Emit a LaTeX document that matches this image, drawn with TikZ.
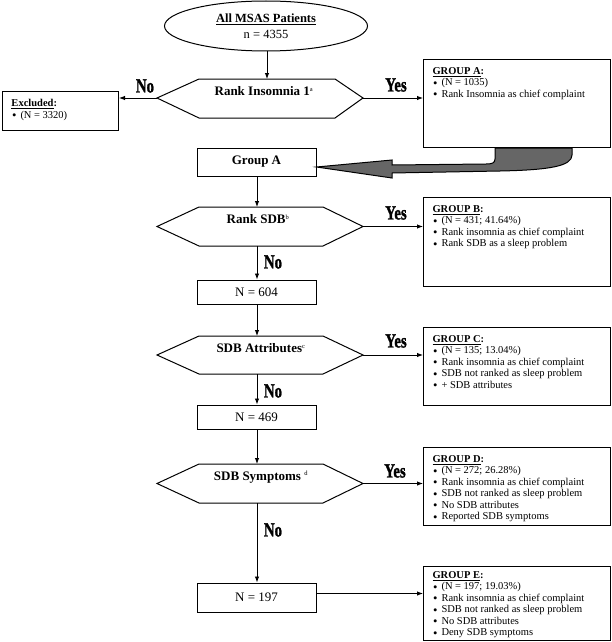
\documentclass[tikz,border=0pt]{standalone}
\usepackage{fontspec}
\setmainfont{Liberation Serif}
\newfontfamily\ynfont[BoldFeatures={FakeBold=1.5}]{Liberation Serif}
\usepackage{graphicx}
\usetikzlibrary{arrows.meta,shapes.geometric,calc}
\definecolor{arrgray}{RGB}{102,102,102}
\newcommand\gbody[3]{\parbox[t][#1pt][t]{#2pt}{\raggedright\leftskip=9pt\relax
  \fontsize{10.5}{11.5}\selectfont\vspace*{8pt}#3\par}}
\newcommand\gtitle[1]{\textbf{\underline{#1}:}}
\newcommand\bl[1]{\par\hspace*{0.5pt}\makebox[8.5pt][l]{\smash{\raisebox{-1.3pt}{\scalebox{1.2}{\textbullet}}}}#1}
\newcommand\supx[1]{\textsuperscript{\fontsize{6.5}{7}\selectfont\mdseries #1}}
\begin{document}
\begin{tikzpicture}[x=1pt,y=-1pt,
  arr/.style={line width=0.9pt,-{Latex[length=6pt,width=4.5pt]}},
  lbox/.style={draw,line width=1pt,minimum width=119pt,inner sep=0pt,font=\fontsize{13}{15}\selectfont},
  grp/.style={draw,line width=1pt,anchor=north west,inner sep=0pt},
  hexline/.style={draw,line width=1pt},
  hextext/.style={font=\fontsize{13}{15}\selectfont\bfseries,inner sep=0pt},
  yn/.style={font=\fontsize{20}{20}\ynfont\bfseries,inner sep=0pt}]
\useasboundingbox (0,0) rectangle (611,642);

% start ellipse
\node[draw,ellipse,line width=1pt,minimum width=203pt,minimum height=50pt,inner sep=0pt,
  align=center,font=\fontsize{12.5}{16}\selectfont] (ell) at (266,26)
  {\textbf{\underline{All MSAS Patients}}\\ n = 4355};

% hexagon 1
\coordinate (h1l) at (157,98); \coordinate (h1r) at (363,98);
\coordinate (h1t) at (267,79); \coordinate (h1b) at (257,118);
\draw[hexline] (h1l) -- (199,79) -- (335,79) -- (h1r) -- (335,118) -- (199,118) -- cycle;
\node[hextext] (h1) at (264,91) {Rank Insomnia 1\supx{a}};

% hexagon 2
\coordinate (h2l) at (157,226.5); \coordinate (h2r) at (363,226.5);
\coordinate (h2t) at (257,207); \coordinate (h2b) at (257,246);
\draw[hexline] (h2l) -- (199,207) -- (323,207) -- (h2r) -- (323,246) -- (199,246) -- cycle;
\node[hextext] (h2) at (258,219) {Rank SDB\supx{b}};

% hexagon 3
\coordinate (h3l) at (157,355); \coordinate (h3r) at (363,355);
\coordinate (h3t) at (257,336); \coordinate (h3b) at (257,374);
\draw[hexline] (h3l) -- (199,336) -- (323,336) -- (h3r) -- (323,374) -- (199,374) -- cycle;
\node[hextext] (h3) at (261,348) {SDB Attributes\supx{c}};

% hexagon 4
\coordinate (h4l) at (157,483.5); \coordinate (h4r) at (363,483.5);
\coordinate (h4t) at (257,464); \coordinate (h4b) at (257,503);
\draw[hexline] (h4l) -- (199,464) -- (323,464) -- (h4r) -- (323,503) -- (199,503) -- cycle;
\node[hextext] (h4) at (261,477) {SDB Symptoms \supx{d}};

% left boxes
\node[lbox,minimum height=28pt,font=\fontsize{13}{15}\selectfont\bfseries] (ga) at (256.5,162) {Group A};
\node[lbox,minimum height=24pt] (n604) at (256.5,292) {N = 604};
\node[lbox,minimum height=24pt] (n469) at (256.5,417) {N = 469};
\node[lbox,minimum height=29pt] (n197) at (256.5,597.5) {N = 197};

% excluded
\node[grp] (exc) at (2,91) {\gbody{39}{116}{\gtitle{Excluded}\bl{(N = 3320)}}};

% group boxes
\node[grp] (grpA) at (423,59) {\gbody{88}{187}{\gtitle{GROUP A}
  \bl{(N = 1035)}\bl{Rank Insomnia as chief complaint}}};
\node[grp] (grpB) at (423,197) {\gbody{89}{187}{\gtitle{GROUP B}
  \bl{(N = 431; 41.64\%)}\bl{Rank insomnia as chief complaint}\bl{Rank SDB as a sleep problem}}};
\node[grp] (grpC) at (423,327) {\gbody{78}{187}{\gtitle{GROUP C}
  \bl{(N = 135; 13.04\%)}\bl{Rank insomnia as chief complaint}\bl{SDB not ranked as sleep problem}\bl{+ SDB attributes}}};
\node[grp] (grpD) at (423,447) {\gbody{78}{187}{\gtitle{GROUP D}
  \bl{(N = 272; 26.28\%)}\bl{Rank insomnia as chief complaint}\bl{SDB not ranked as sleep problem}\bl{No SDB attributes}\bl{Reported SDB symptoms}}};
\node[grp] (grpE) at (423,566) {\gbody{74}{187}{\vspace*{-3pt}\gtitle{GROUP E}
  \bl{(N = 197; 19.03\%)}\bl{Rank insomnia as chief complaint}\bl{SDB not ranked as sleep problem}\bl{No SDB attributes}\bl{Deny SDB symptoms}}};

% connectors
\draw[arr] (ell.south -| h1t) -- (h1t);
\draw[arr] (h1l) -- (h1l -| exc.east);
\draw[arr] (h1r) -- (h1r -| grpA.west);
\draw[arr] (ga.south -| h2t) -- (h2t);
\draw[arr] (h2r) -- (h2r -| grpB.west);
\draw[arr] (h2b) -- (n604.north -| h2b);
\draw[arr] (n604.south -| h3t) -- (h3t);
\draw[arr] (h3r) -- (h3r -| grpC.west);
\draw[arr] (h3b) -- (n469.north -| h3b);
\draw[arr] (n469.south -| h4t) -- (h4t);
\draw[arr] (h4r) -- (h4r -| grpD.west);
\draw[arr] (h4b) -- (n197.north -| h4b);
\draw[arr] ([yshift=4pt]n197.east) -- ([yshift=4pt]n197.east -| grpE.west);

% big grey arrow from GROUP A box to Group A box
\coordinate (gtip) at ([yshift=-5pt]ga.east);
\draw[line width=1pt,fill=arrgray] (495,148) -- (495,159) .. controls (495,163) and (492,164) .. (486,164)
  -- (392,165) -- (392,160) -- (gtip) -- (392,178) -- (392,173) -- (500,171)
  .. controls (550,170) and (572,166) .. (572,155) -- (572,148) -- cycle;

% labels
\node[yn] (noE) at (145,86) {\scalebox{0.74}[1]{No}};
\node[yn] (yes1) at (396,85) {\scalebox{0.74}[1]{Yes}};
\node[yn] (yes2) at (396,213) {\scalebox{0.74}[1]{Yes}};
\node[yn] (yes3) at (396,341) {\scalebox{0.74}[1]{Yes}};
\node[yn] (yes4) at (395,471) {\scalebox{0.74}[1]{Yes}};
\node[yn] (no2) at (273,262) {\scalebox{0.74}[1]{No}};
\node[yn] (no3) at (273,391) {\scalebox{0.74}[1]{No}};
\node[yn] (no4) at (273,530) {\scalebox{0.74}[1]{No}};
\end{tikzpicture}
\end{document}
